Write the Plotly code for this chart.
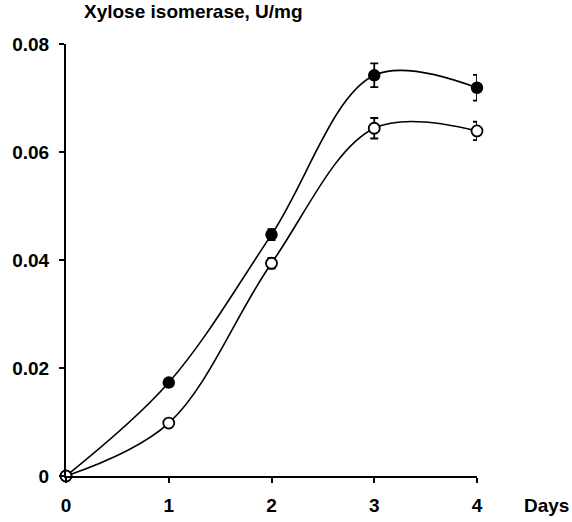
import plotly.graph_objects as go

days = [0, 1, 2, 3, 4]
series1 = [0.0, 0.0098, 0.0394, 0.0644, 0.0639]
err1 = [0.0, 0.0005, 0.0010, 0.0019, 0.0017]
series2 = [0.0, 0.0173, 0.0447, 0.0742, 0.0719]
err2 = [0.0, 0.0007, 0.0010, 0.0022, 0.0024]
x_ticks = [0, 1, 2, 3, 4]
y_ticks = [0, 0.02, 0.04, 0.06, 0.08]
y_ticklabels = ["0", "0.02", "0.04", "0.06", "0.08"]

FONT = "Liberation Sans, Arial, sans-serif"
FS = 19

fig = go.Figure()
fig.add_trace(go.Scatter(
    x=days, y=series2, mode="lines+markers",
    line=dict(color="black", width=1.6, shape="spline", smoothing=1.0),
    marker=dict(symbol="circle", size=11, color="black", line=dict(color="black", width=1.5)),
    error_y=dict(type="data", array=err2, visible=True, color="black", thickness=1.8, width=4),
    cliponaxis=False, showlegend=False,
))
fig.add_trace(go.Scatter(
    x=days, y=series1, mode="lines+markers",
    line=dict(color="black", width=1.6, shape="spline", smoothing=1.0),
    marker=dict(symbol="circle", size=11, color="white", line=dict(color="black", width=1.8)),
    error_y=dict(type="data", array=err1, visible=True, color="black", thickness=1.8, width=4),
    cliponaxis=False, showlegend=False,
))

fig.update_layout(
    width=572, height=522,
    margin=dict(l=66, r=95, t=44, b=46),
    paper_bgcolor="white", plot_bgcolor="white",
    font=dict(family=FONT, size=FS, color="black", weight="bold"),
    xaxis=dict(
        range=[0, 4], tickvals=x_ticks, ticktext=[str(v) for v in x_ticks],
        showline=True, linecolor="black", linewidth=2, ticks="outside",
        ticklen=5, tickcolor="black", tickwidth=1.5, showgrid=False, zeroline=False,
        ticklabelstandoff=6, automargin=False,
        tickfont=dict(family=FONT, size=FS, color="black", weight="bold"),
    ),
    yaxis=dict(
        range=[0, 0.08], tickvals=y_ticks, ticktext=y_ticklabels,
        showline=True, linecolor="black", linewidth=2, ticks="outside",
        ticklen=5, tickcolor="black", tickwidth=1.5, showgrid=False, zeroline=False,
        ticklabelstandoff=6, automargin=False,
        tickfont=dict(family=FONT, size=FS, color="black", weight="bold"),
    ),
    annotations=[
        dict(text="Xylose isomerase, U/mg", xref="paper", yref="paper", x=0.04, y=1.0,
             yshift=20, xanchor="left", yanchor="bottom", showarrow=False,
             font=dict(family=FONT, size=FS, color="black", weight="bold")),
        dict(text="Days", xref="paper", yref="paper", x=1.0, y=0, xshift=45, yshift=-29,
             xanchor="left", yanchor="middle", showarrow=False,
             font=dict(family=FONT, size=FS, color="black", weight="bold")),
        dict(text="2", xref="x", yref="y", x=4.27, y=0.0733, showarrow=False,
             font=dict(family=FONT, size=FS, color="black", weight="bold")),
        dict(text="1", xref="x", yref="y", x=4.28, y=0.0628, showarrow=False,
             font=dict(family=FONT, size=FS, color="black", weight="bold")),
    ],
)

fig.write_html("out.html")
